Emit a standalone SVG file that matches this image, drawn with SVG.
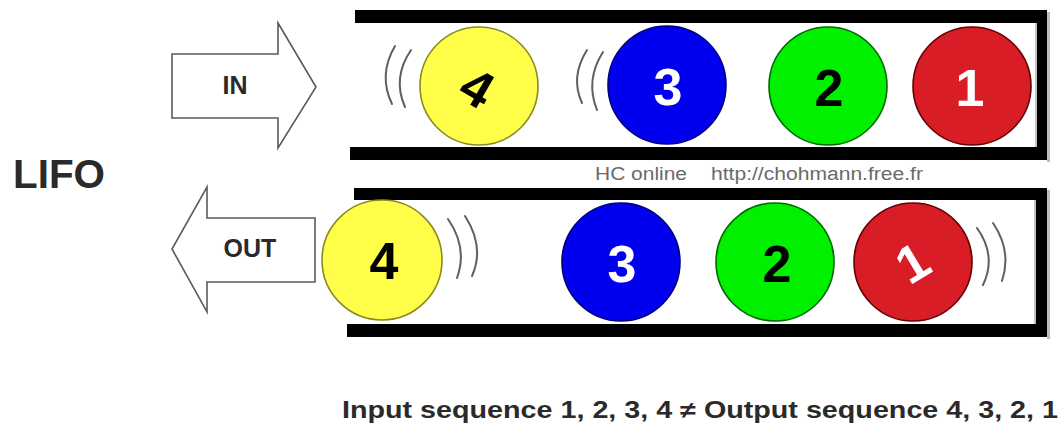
<svg xmlns="http://www.w3.org/2000/svg" width="1061" height="427" viewBox="0 0 1061 427">
  <style>
    .wall { fill: #000; }
    .shade { fill: #bdbdbd; }
    .arrow { fill: #fff; stroke: #5a5a5a; stroke-width: 1.6; stroke-linejoin: miter; }
    .wave { fill: none; stroke: #5f5f5f; stroke-width: 2; stroke-linecap: round; }
    .digit { font-family: "Liberation Sans", Arial, sans-serif; font-weight: bold; font-size: 52px; text-anchor: middle; }
    .lbl { font-family: "Liberation Sans", Arial, sans-serif; font-weight: bold; fill: #2a2a2a; }
    .yellow { fill: #ffff4a; stroke: #8a8a20; stroke-width: 1.6; }
    .blue { fill: #0000ee; stroke: #00007a; stroke-width: 1.6; }
    .green { fill: #00f000; stroke: #006a00; stroke-width: 1.6; }
    .red { fill: #d81d26; stroke: #650000; stroke-width: 1.6; }
  </style>

  <rect width="1061" height="427" fill="#fff"/>

  <!-- Title -->
  <g id="title">
    <text class="lbl" x="13" y="188" font-size="40" fill="#111" textLength="92" lengthAdjust="spacingAndGlyphs">LIFO</text>
  </g>

  <!-- Upper tube (pushing in) -->
  <g id="tube-in">
    <rect class="shade" x="1047" y="12" width="3" height="150"/>
    <rect class="wall" x="355" y="10" width="692" height="13"/>
    <rect class="wall" x="350" y="147" width="697" height="13"/>
    <rect class="wall" x="1037" y="10" width="10" height="150"/>
    <line x1="1036" y1="23" x2="1036" y2="147" stroke="#888" stroke-width="1"/>
  </g>

  <!-- Lower tube (popping out) -->
  <g id="tube-out">
    <rect class="shade" x="1047" y="190" width="3" height="149"/>
    <rect class="wall" x="354" y="188" width="693" height="12"/>
    <rect class="wall" x="347" y="324" width="700" height="13"/>
    <rect class="wall" x="1036" y="188" width="11" height="149"/>
    <line x1="1035" y1="200" x2="1035" y2="324" stroke="#888" stroke-width="1"/>
  </g>

  <!-- Direction arrows -->
  <g id="arrow-in">
    <polygon class="arrow" points="172,54 278,54 278,23 316,87 278,148 278,118 172,118"/>
    <text class="lbl" x="235" y="94" font-size="25" text-anchor="middle">IN</text>
  </g>
  <g id="arrow-out">
    <polygon class="arrow" points="315,218 207,218 207,187 172,249 207,312 207,282 315,282"/>
    <text class="lbl" x="250" y="257" font-size="25" text-anchor="middle">OUT</text>
  </g>

  <!-- Balls in the upper tube -->
  <g id="in-ball-4">
    <circle class="yellow" cx="479" cy="86" r="59"/>
    <text class="digit" x="477" y="106" fill="#000" transform="rotate(30 477 88)">4</text>
  </g>
  <g id="in-ball-3">
    <circle class="blue" cx="667" cy="85" r="59"/>
    <text class="digit" x="668" y="105" fill="#fff">3</text>
  </g>
  <g id="in-ball-2">
    <circle class="green" cx="828" cy="86" r="59"/>
    <text class="digit" x="829" y="106" fill="#000">2</text>
  </g>
  <g id="in-ball-1">
    <circle class="red" cx="972" cy="86" r="59"/>
    <text class="digit" x="970" y="106" fill="#fff">1</text>
  </g>

  <!-- Balls in the lower tube -->
  <g id="out-ball-4">
    <circle class="yellow" cx="382" cy="260" r="60"/>
    <text class="digit" x="384" y="279" fill="#000">4</text>
  </g>
  <g id="out-ball-3">
    <circle class="blue" cx="621" cy="262" r="59"/>
    <text class="digit" x="622" y="282" fill="#fff">3</text>
  </g>
  <g id="out-ball-2">
    <circle class="green" cx="775" cy="262" r="59"/>
    <text class="digit" x="777" y="282" fill="#000">2</text>
  </g>
  <g id="out-ball-1">
    <circle class="red" cx="913" cy="262" r="59"/>
    <text class="digit" x="912" y="281" fill="#fff" transform="rotate(-31 912 262)">1</text>
  </g>

  <!-- Motion marks -->
  <g id="motion">
    <path class="wave" d="M395,46 Q378,75 392,104"/>
    <path class="wave" d="M411,50 Q392,78 405,107"/>
    <path class="wave" d="M587,50 Q570,77 582,103"/>
    <path class="wave" d="M603,52 Q585,80 597,110"/>
    <path class="wave" d="M448,219 Q468,248 457,278"/>
    <path class="wave" d="M465,216 Q485,247 472,276"/>
    <path class="wave" d="M977,228 Q997,256 983,285"/>
    <path class="wave" d="M993,223 Q1012,251 1002,281"/>
  </g>

  <!-- Credit line -->
  <g id="credit" font-family="Liberation Sans, Arial, sans-serif" font-size="18" fill="#6a6a6a">
    <text x="595" y="180" textLength="92" lengthAdjust="spacingAndGlyphs">HC online</text>
    <text x="711" y="180" textLength="212" lengthAdjust="spacingAndGlyphs">http://chohmann.free.fr</text>
  </g>

  <!-- Caption -->
  <g id="caption">
    <text class="lbl" x="342" y="418" font-size="23" fill="#222" textLength="716" lengthAdjust="spacingAndGlyphs">Input sequence 1, 2, 3, 4 ≠ Output sequence 4, 3, 2, 1</text>
  </g>
</svg>
